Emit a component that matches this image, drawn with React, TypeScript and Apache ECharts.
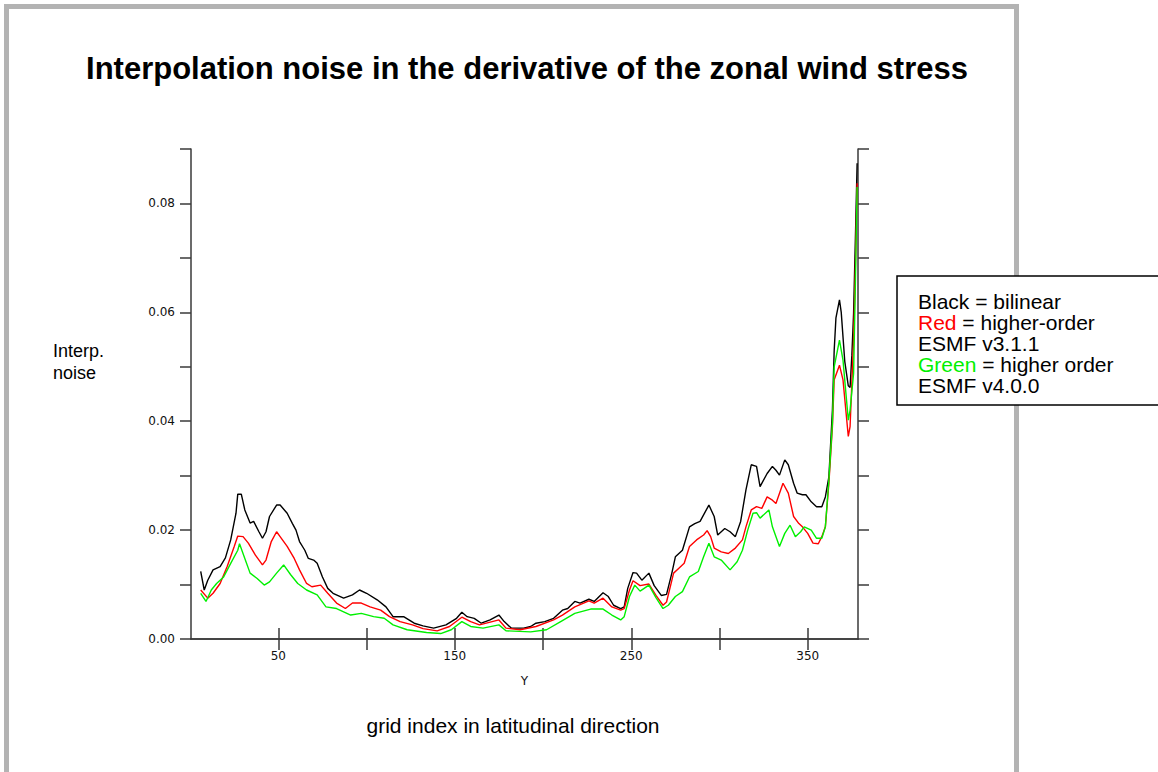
import React, { useEffect, useRef } from "react";
import * as echarts from "echarts";

// grid index (x), noise value (y)
const blackPoints: [number, number][] = [
  [6, 0.0124], [8, 0.009], [10, 0.0108], [13, 0.0127], [17, 0.0133], [20, 0.0149], [23, 0.0182], [26, 0.0231],
  [27, 0.0266], [29, 0.0266], [31, 0.0237], [34, 0.0213], [36, 0.0216], [39, 0.0197], [41, 0.0185], [43, 0.0197],
  [45, 0.0225], [49, 0.0246], [51, 0.0246], [55, 0.0231], [58, 0.0212], [60, 0.02], [62, 0.0179], [65, 0.0163],
  [67, 0.0148], [70, 0.0145], [72, 0.0139], [75, 0.0114], [78, 0.0093], [81, 0.0084], [87, 0.0075], [92, 0.0081],
  [96, 0.009], [100, 0.0084], [106, 0.0072], [111, 0.0059], [115, 0.0041], [121, 0.0041], [127, 0.0029], [132, 0.0024],
  [138, 0.002], [145, 0.0026], [151, 0.0038], [154, 0.0049], [157, 0.0041], [161, 0.0038], [165, 0.0029], [170, 0.0035],
  [175, 0.0044], [178, 0.0032], [182, 0.002], [189, 0.002], [193, 0.0023], [196, 0.0029], [201, 0.0032], [206, 0.0038],
  [211, 0.0053], [214, 0.0056], [218, 0.0069], [221, 0.0066], [226, 0.0073], [229, 0.0069], [234, 0.0085], [237, 0.0078],
  [240, 0.0062], [244, 0.0056], [246, 0.0059], [248, 0.0093], [251, 0.0122], [253, 0.0121], [256, 0.0108], [260, 0.0121],
  [263, 0.0098], [267, 0.008], [270, 0.0082], [273, 0.0121], [275, 0.0151], [279, 0.0163], [283, 0.0206], [286, 0.0212],
  [289, 0.0216], [294, 0.0246], [297, 0.0225], [299, 0.0191], [303, 0.0203], [306, 0.0197], [309, 0.0188], [312, 0.0216],
  [315, 0.0274], [318, 0.032], [321, 0.0317], [323, 0.028], [327, 0.0304], [330, 0.0317], [332, 0.031], [334, 0.0301],
  [337, 0.0329], [339, 0.032], [342, 0.0286], [344, 0.0268], [347, 0.0265], [349, 0.0265], [352, 0.0252], [355, 0.0243],
  [358, 0.0243], [360, 0.0261], [362, 0.0298], [364, 0.042], [365, 0.053], [366, 0.059], [368, 0.0623], [369, 0.06],
  [371, 0.051], [373, 0.0465], [374, 0.0462], [375, 0.052], [376, 0.0598], [377, 0.0733], [378, 0.0874],
];

const redPoints: [number, number][] = [
  [6, 0.009], [10, 0.0075], [13, 0.0084], [17, 0.0102], [21, 0.0133], [25, 0.017], [27, 0.0189], [30, 0.0188],
  [33, 0.0176], [37, 0.0154], [41, 0.0136], [43, 0.0145], [46, 0.0179], [49, 0.0197], [51, 0.0188], [55, 0.017],
  [59, 0.0148], [62, 0.0127], [66, 0.0102], [69, 0.0096], [74, 0.0099], [78, 0.0084], [83, 0.0066], [88, 0.0056],
  [92, 0.0066], [97, 0.0066], [102, 0.0059], [108, 0.0053], [113, 0.0041], [119, 0.0032], [126, 0.0026], [132, 0.0019],
  [140, 0.0015], [147, 0.0023], [154, 0.004], [159, 0.0032], [164, 0.0026], [175, 0.0035], [179, 0.002], [187, 0.0017],
  [196, 0.0023], [206, 0.0035], [211, 0.0044], [218, 0.0059], [226, 0.007], [229, 0.0066], [234, 0.0075], [239, 0.0059],
  [244, 0.0053], [246, 0.0056], [249, 0.009], [251, 0.0107], [255, 0.0098], [260, 0.0101], [264, 0.008], [268, 0.0062],
  [270, 0.0068], [274, 0.0121], [277, 0.013], [280, 0.0139], [283, 0.017], [287, 0.0182], [291, 0.0191], [293, 0.0199],
  [295, 0.0188], [297, 0.0167], [301, 0.016], [305, 0.0157], [309, 0.0167], [313, 0.0182], [315, 0.0206], [318, 0.0237],
  [321, 0.0243], [324, 0.024], [327, 0.0261], [330, 0.0255], [332, 0.0249], [336, 0.0286], [339, 0.0268], [342, 0.0225],
  [345, 0.0212], [347, 0.0206], [350, 0.0194], [353, 0.0176], [356, 0.0175], [358, 0.0188], [360, 0.0206], [362, 0.0286],
  [364, 0.039], [365, 0.0476], [368, 0.0503], [370, 0.0476], [373, 0.0372], [374, 0.039], [376, 0.0549], [377, 0.068],
  [378, 0.0837],
];

const greenPoints: [number, number][] = [
  [6, 0.0084], [9, 0.0069], [12, 0.009], [15, 0.0102], [19, 0.0114], [23, 0.0139], [27, 0.0163], [28, 0.0175],
  [31, 0.0148], [34, 0.0121], [38, 0.0111], [42, 0.0099], [45, 0.0105], [49, 0.0121], [53, 0.0136], [57, 0.0118],
  [61, 0.0102], [66, 0.009], [72, 0.0081], [77, 0.0059], [83, 0.0056], [91, 0.0044], [97, 0.0047], [104, 0.0041],
  [110, 0.0038], [115, 0.0026], [123, 0.0017], [134, 0.0012], [142, 0.001], [148, 0.0017], [154, 0.0032], [159, 0.0023],
  [166, 0.002], [175, 0.0026], [179, 0.0015], [193, 0.0013], [202, 0.0017], [210, 0.0032], [218, 0.0047], [227, 0.0055],
  [234, 0.0055], [239, 0.0044], [244, 0.0035], [246, 0.0041], [249, 0.0078], [252, 0.0099], [255, 0.0088], [260, 0.0099],
  [264, 0.0076], [268, 0.0056], [271, 0.0062], [275, 0.0078], [279, 0.0087], [283, 0.0114], [288, 0.0124], [291, 0.0151],
  [294, 0.0176], [297, 0.0151], [301, 0.0145], [306, 0.0127], [310, 0.0142], [313, 0.0163], [316, 0.02], [319, 0.0231],
  [321, 0.0232], [323, 0.0222], [328, 0.0237], [330, 0.0206], [334, 0.017], [337, 0.0194], [340, 0.0209], [343, 0.0188],
  [346, 0.0197], [348, 0.0206], [352, 0.02], [355, 0.0185], [358, 0.0185], [360, 0.0206], [362, 0.0292], [364, 0.0396],
  [365, 0.05], [368, 0.0549], [370, 0.0512], [373, 0.0402], [374, 0.042], [376, 0.0488], [377, 0.065], [378, 0.083],
];

const xTickValues = [50, 100, 150, 200, 250, 300, 350];
const xLabelValues = [50, 150, 250, 350];

const titleText = "Interpolation noise in the derivative of the zonal wind stress";
const legendLines = [
  "Black = bilinear",
  "{r|Red} = higher-order",
  "ESMF v3.1.1",
  "{g|Green} = higher order",
  "ESMF v4.0.0",
];

export default function App() {
  const ref = useRef<HTMLDivElement>(null);

  useEffect(() => {
    document.body.style.margin = "0";
    if (!ref.current) return;
    const chart = echarts.init(ref.current, undefined, { renderer: "svg" });
    const axisLine = { show: true, lineStyle: { color: "#3a3a3a", width: 1.5 } };
    const tickStyle = { color: "#3a3a3a", width: 1.5 };
    const labelFont = { fontFamily: "DejaVu Sans", fontSize: 12, color: "#111" };
    const gray = "#b3b3b3";
    const lime = "#00f000";

    const option: any = {
      animation: false,
      backgroundColor: "#fff",
      grid: { left: 191, top: 149, right: 300, bottom: 133, containLabel: false },
      xAxis: [
        {
          type: "value",
          position: "bottom",
          min: 0.5,
          max: 378.5,
          axisLine,
          axisTick: { show: true, length: 11, lineStyle: tickStyle, customValues: xTickValues },
          axisLabel: { ...labelFont, margin: 11, customValues: xLabelValues },
          splitLine: { show: false },
          name: "Y",
          nameLocation: "middle",
          nameGap: 36,
          nameTextStyle: { fontFamily: "DejaVu Sans", fontSize: 12, color: "#111" },
        },
        {
          type: "value",
          position: "top",
          min: 0.5,
          max: 378.5,
          axisLine,
          axisTick: { show: true, length: 11, lineStyle: tickStyle, customValues: xTickValues },
          axisLabel: { show: false },
          splitLine: { show: false },
        },
      ],
      yAxis: [
        {
          type: "value",
          position: "left",
          min: 0,
          max: 0.09,
          interval: 0.01,
          axisLine,
          axisTick: { show: true, length: 11, lineStyle: tickStyle },
          axisLabel: {
            ...labelFont,
            margin: 16,
            formatter: (v: number) => (Math.round(v * 100) % 2 === 0 ? v.toFixed(2) : ""),
          },
          splitLine: { show: false },
        },
        {
          type: "value",
          position: "right",
          min: 0,
          max: 0.09,
          interval: 0.01,
          axisLine,
          axisTick: { show: true, length: 11, lineStyle: tickStyle },
          axisLabel: { show: false },
          splitLine: { show: false },
        },
      ],
      series: [
        { name: "Black", type: "line", data: blackPoints, showSymbol: false, lineStyle: { color: "#000", width: 1.4 }, z: 2 },
        { name: "Red", type: "line", data: redPoints, showSymbol: false, lineStyle: { color: "#ff0000", width: 1.4 }, z: 3 },
        { name: "Green", type: "line", data: greenPoints, showSymbol: false, lineStyle: { color: lime, width: 1.4 }, z: 4 },
      ],
      graphic: [
        { type: "rect", shape: { x: 4, y: 4, width: 5, height: 780 }, style: { fill: gray }, silent: true },
        { type: "rect", shape: { x: 4, y: 4, width: 1015, height: 5 }, style: { fill: gray }, silent: true },
        { type: "rect", shape: { x: 1014, y: 4, width: 5, height: 780 }, style: { fill: gray }, silent: true },
        {
          type: "text",
          x: 527,
          y: 68,
          style: {
            text: titleText,
            fontFamily: "Liberation Sans",
            fontWeight: "bold",
            fontSize: 31,
            fill: "#000",
            align: "center",
            verticalAlign: "middle",
          },
        },
        {
          type: "text",
          x: 53,
          y: 362,
          style: {
            text: "Interp.\nnoise",
            fontFamily: "Liberation Sans",
            fontSize: 18,
            lineHeight: 22,
            fill: "#000",
            align: "left",
            verticalAlign: "middle",
          },
        },
        {
          type: "text",
          x: 513,
          y: 725,
          style: {
            text: "grid index in latitudinal direction",
            fontFamily: "Liberation Sans",
            fontSize: 21,
            fill: "#000",
            align: "center",
            verticalAlign: "middle",
          },
        },
        {
          type: "rect",
          z: 10,
          shape: { x: 897, y: 276, width: 262, height: 129 },
          style: { fill: "#fff", stroke: "#000", lineWidth: 1.5 },
        },
        {
          type: "text",
          z: 11,
          x: 918,
          y: 291,
          style: {
            text: legendLines.join("\n"),
            fontFamily: "Liberation Sans",
            fontSize: 21,
            lineHeight: 21,
            fill: "#000",
            align: "left",
            verticalAlign: "top",
            rich: {
              r: { fill: "#ff0000", fontFamily: "Liberation Sans", fontSize: 21, lineHeight: 21 },
              g: { fill: lime, fontFamily: "Liberation Sans", fontSize: 21, lineHeight: 21 },
            },
          },
        },
      ],
    };
    chart.setOption(option);
    return () => chart.dispose();
  }, []);

  return <div ref={ref} style={{ width: 1158, height: 772 }} />;
}
